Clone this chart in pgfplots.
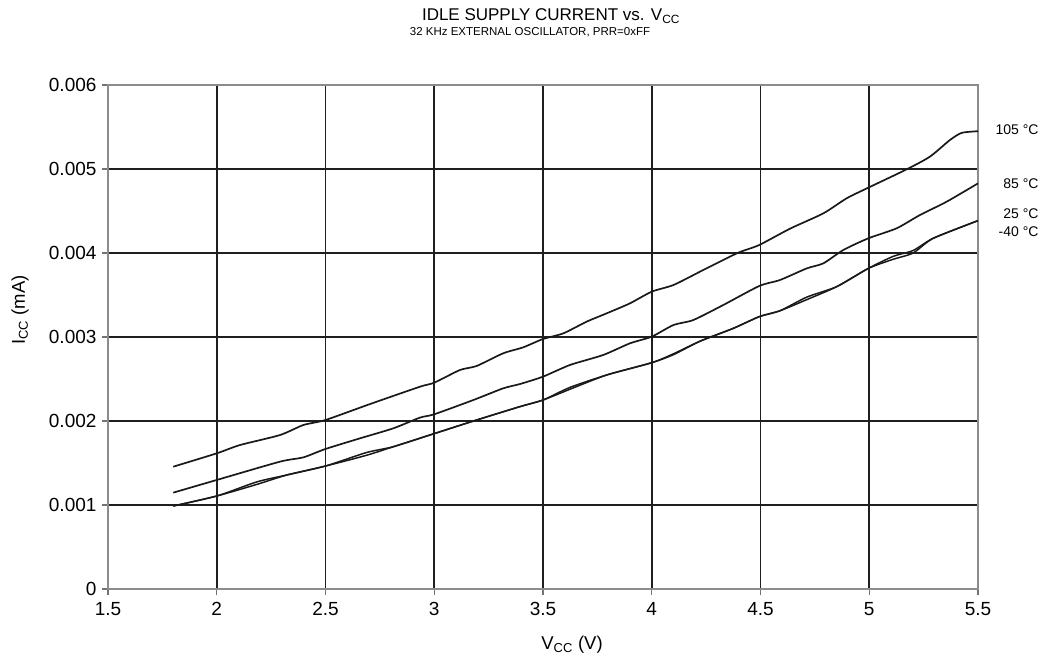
\documentclass[border=0pt]{standalone}
\usepackage{fontspec}
\setmainfont{Liberation Sans}
\usepackage{pgfplots}
\usepackage{pgfplotstable}
\pgfplotsset{compat=1.18}
\pgfplotstableread{
x y
1.80 0.001456
2.00 0.001615
2.107 0.001714
2.291 0.001833
2.398 0.001952
2.50 0.002012
2.705 0.002202
2.934 0.002408
3.00 0.002456
3.118 0.002607
3.195 0.002655
3.317 0.002806
3.409 0.002877
3.50 0.002976
3.594 0.003044
3.701 0.003183
3.793 0.003282
3.90 0.003401
4.00 0.003540
4.10 0.003619
4.222 0.003778
4.283 0.003857
4.398 0.004004
4.494 0.004095
4.636 0.004290
4.789 0.004472
4.896 0.004651
4.996 0.004778
5.172 0.004996
5.279 0.005147
5.371 0.005345
5.425 0.005430
5.50 0.005450
}\tabA
\pgfplotstableread{
x y
1.80 0.001147
2.00 0.001298
2.291 0.001516
2.398 0.001567
2.50 0.001667
2.659 0.001794
2.812 0.001913
2.934 0.002040
3.00 0.002080
3.18 0.002250
3.317 0.002389
3.394 0.002440
3.50 0.002528
3.624 0.002667
3.777 0.002786
3.90 0.002925
4.00 0.003004
4.10 0.003143
4.191 0.003202
4.329 0.003381
4.494 0.003607
4.59 0.003679
4.713 0.003817
4.789 0.003877
4.881 0.004036
4.996 0.004175
5.126 0.004294
5.233 0.004452
5.356 0.004611
5.50 0.004829
}\tabB
\pgfplotstableread{
x y
1.80 0.000988
2.00 0.001107
2.184 0.001275
2.322 0.001357
2.50 0.001464
2.689 0.001625
2.812 0.001694
3.00 0.001850
3.195 0.002012
3.394 0.002171
3.50 0.002250
3.624 0.002400
3.793 0.002548
4.00 0.002694
4.10 0.002800
4.222 0.002950
4.375 0.003103
4.494 0.003242
4.59 0.003313
4.713 0.003475
4.851 0.003600
4.996 0.003817
5.11 0.003960
5.202 0.004030
5.294 0.004175
5.50 0.004385
}\tabC
\pgfplotstableread{
x y
1.80 0.000988
2.00 0.001107
2.184 0.001245
2.322 0.001357
2.50 0.001464
2.689 0.001592
2.812 0.001694
3.00 0.001850
3.195 0.002012
3.394 0.002171
3.50 0.002250
3.624 0.002378
3.793 0.002548
4.00 0.002694
4.10 0.002790
4.222 0.002950
4.375 0.003103
4.494 0.003242
4.59 0.003313
4.713 0.003445
4.851 0.003600
4.996 0.003817
5.11 0.003925
5.202 0.004000
5.294 0.004175
5.50 0.004385
}\tabD
\begin{document}
\begin{tikzpicture}[x=1pt,y=1pt]
\useasboundingbox (-108,-78) rectangle (944,589);
\begin{axis}[
  at={(0,0)}, anchor=south west, scale only axis,
  width=870pt, height=504pt,
  xmin=1.5, xmax=5.5, ymin=0, ymax=0.006,
  xtick={1.5,2,2.5,3,3.5,4,4.5,5,5.5},
  xticklabels={1.5,2,2.5,3,3.5,4,4.5,5,5.5},
  ytick={0,0.001,0.002,0.003,0.004,0.005,0.006},
  yticklabels={0,0.001,0.002,0.003,0.004,0.005,0.006},
  scaled y ticks=false,
  grid=major,
  major grid style={black!88, line width=1.8pt},
  axis line style={black!45, line width=2.2pt},
  tick style={black!55, line width=1.2pt},
  tick align=outside, major tick length=6pt,
  xtick pos=left, ytick pos=left,
  ticklabel style={font=\fontsize{19}{22}\selectfont},
  /pgf/number format/assume math mode=true,
  xticklabel style={yshift=-4pt},
  yticklabel style={xshift=-2pt},
]
\addplot[black!90, line width=1.7pt, smooth, tension=0.4] table {\tabA};
\addplot[black!90, line width=1.7pt, smooth, tension=0.4] table {\tabB};
\addplot[black!90, line width=1.5pt, smooth, tension=0.4] table {\tabC};
\addplot[black!90, line width=1.5pt, smooth, tension=0.4] table {\tabD};
\end{axis}
\node[font=\fontsize{17}{20}\selectfont] at (443,573) {IDLE SUPPLY CURRENT vs. V\textsubscript{CC}};
\node[font=\fontsize{11.5}{14}\selectfont] at (422,557) {32 KHz EXTERNAL OSCILLATOR, PRR=0xFF};
\node[font=\fontsize{14}{17}\selectfont, anchor=east] at (934,459) {105 °C};
\node[font=\fontsize{14}{17}\selectfont, anchor=east] at (934,405) {85 °C};
\node[font=\fontsize{14}{17}\selectfont, anchor=east] at (934,375) {25 °C};
\node[font=\fontsize{14}{17}\selectfont, anchor=east] at (934,357) {-40 °C};
\node[font=\fontsize{18.5}{21}\selectfont] at (464,-56) {V\textsubscript{CC} (V)};
\node[font=\fontsize{18.5}{21}\selectfont, rotate=90] at (-88,279) {I\textsubscript{CC} (mA)};
\end{tikzpicture}
\end{document}
